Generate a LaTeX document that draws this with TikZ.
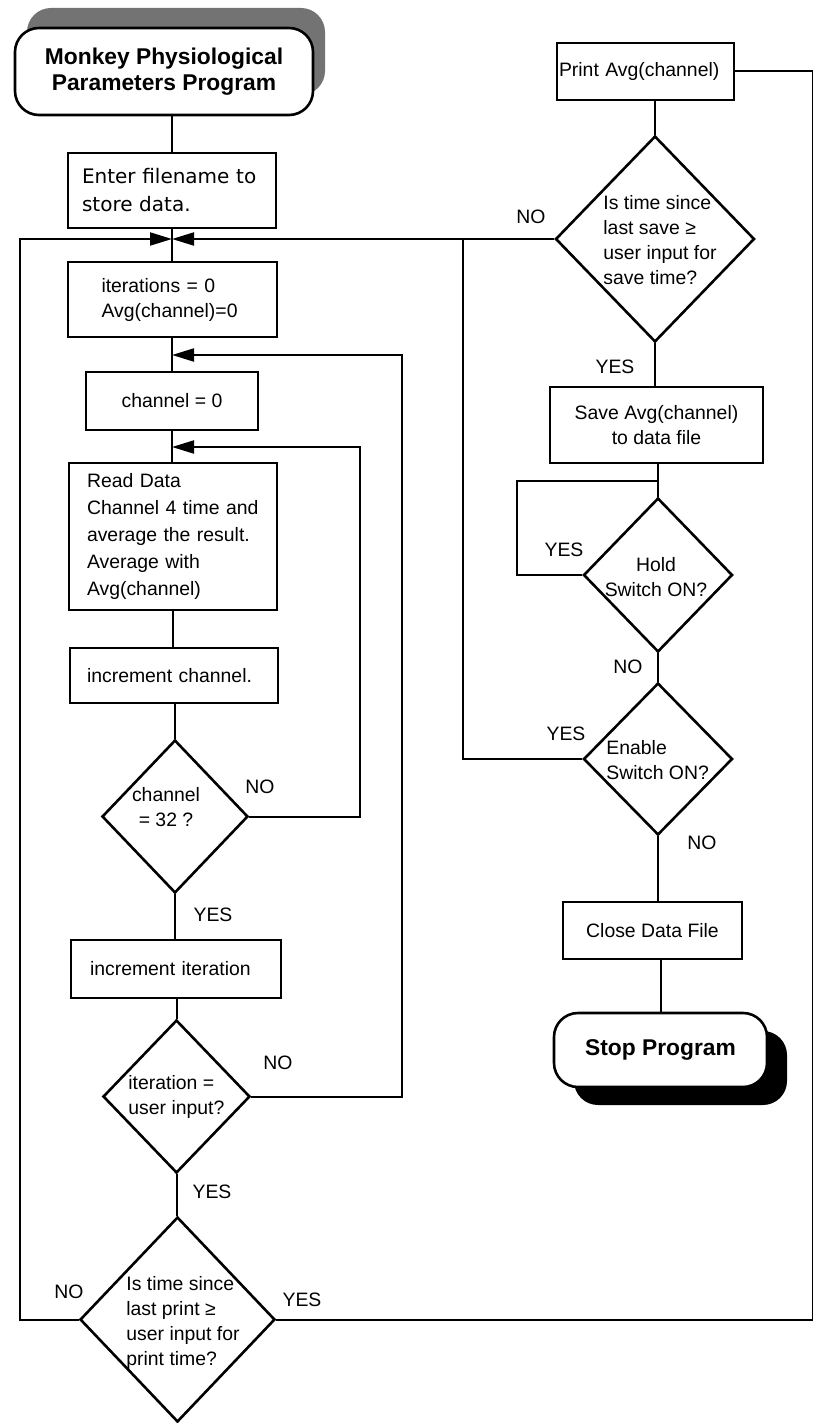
\documentclass[tikz,border=0pt]{standalone}
\usepackage{fontspec}
\setmainfont{Liberation Sans}
\newfontfamily\typedfont{DejaVu Sans}
\usetikzlibrary{arrows.meta,shapes.geometric,shadows}

\newcommand{\boxfont}{\fontsize{9.7}{12.5}\selectfont}
\newcommand{\termfont}{\fontsize{11.4}{13}\selectfont\bfseries}

\tikzset{
  flow/.style={line width=1pt},
  loopin/.style={flow, -{Triangle[length=11pt, width=6.5pt]}},
  procbox/.style={draw, line width=1pt, rectangle, align=left, inner ysep=0pt, font=\boxfont},
  decision/.style={draw, line width=1.3pt, diamond, inner sep=0pt},
  dtext/.style={align=left, inner sep=0pt, font=\boxfont},
  terminal/.style={draw, line width=1.3pt, rounded corners=12pt, fill=white, align=center, font=\termfont},
  answer/.style={inner sep=0pt, font=\boxfont},
}

\begin{document}
\begin{tikzpicture}[x=0.5pt, y=-0.5pt]
  \useasboundingbox (0,0) rectangle (813,1423);

  % left column
  \node[terminal, minimum width=149pt, minimum height=43.5pt,
    drop shadow={shadow xshift=6pt, shadow yshift=10pt, fill=black!55, opacity=1}]
    (start) at (164,71.5) {Monkey Physiological\\Parameters Program};
  \node[procbox, font=\typedfont\fontsize{10}{14}\selectfont, text width=90pt,
    inner xsep=7pt, minimum height=37.5pt] (enter) at (172,190.5) {Enter filename to\\store data.};
  \node[procbox, text width=70.5pt, inner xsep=17pt, minimum height=37.5pt]
    (iter0) at (172,299.5) {iterations = 0\\Avg(channel)=0};
  \node[procbox, minimum width=86pt, minimum height=29pt] (chan0) at (172,401) {channel = 0};
  \node[procbox, font=\fontsize{9.7}{13.5}\selectfont, text width=86pt, inner xsep=9pt,
    minimum height=73.5pt] (read) at (173,536.5)
    {Read Data\\Channel 4 time and\\average the result.\\Average with\\Avg(channel)};
  \node[procbox, text width=87pt, inner xsep=8.5pt, minimum height=27.5pt]
    (incch) at (174,675.5) {increment channel.};
  \node[decision, minimum width=73pt, minimum height=76.5pt] (chdec) at (175,816.5) {};
  \node[dtext, align=center] (chdec-t) at (166,807) {channel\\= 32 ?};
  \node[procbox, text width=86pt, inner xsep=9.5pt, minimum height=29pt]
    (incit) at (176,969) {increment iteration};
  \node[decision, minimum width=73.5pt, minimum height=76.5pt] (itdec) at (176.5,1096.5) {};
  \node[dtext, anchor=west] (itdec-t) at (128,1097) {iteration =\\user input?};
  \node[decision, minimum width=97.5pt, minimum height=102.5pt] (prdec) at (177.5,1319.5) {};
  \node[dtext, anchor=west] (prdec-t) at (126,1323)
    {Is time since\\last print ≥\\user input for\\print time?};

  % right column
  \node[procbox, text width=86.5pt, inner xsep=1pt, minimum height=28.5pt]
    (print) at (645.5,71.5) {Print Avg(channel)};
  \node[decision, minimum width=99.5pt, minimum height=103pt] (svdec) at (655,239) {};
  \node[dtext, anchor=west] (svdec-t) at (603,240)
    {Is time since\\last save ≥\\user input for\\save time?};
  \node[procbox, align=center, minimum width=106.5pt, minimum height=38pt]
    (save) at (656.5,425) {Save Avg(channel)\\to data file};
  \node[decision, minimum width=74.5pt, minimum height=77pt] (hold) at (658,575) {};
  \node[dtext, align=center] (hold-t) at (656,577) {Hold\\Switch ON?};
  \node[decision, minimum width=74.5pt, minimum height=76pt] (enable) at (658,759) {};
  \node[dtext, anchor=west] (enable-t) at (606,760) {Enable\\Switch ON?};
  \node[procbox, minimum width=89.5pt, minimum height=28.5pt] (close) at (652.5,930.5) {Close Data File};
  \node[terminal, minimum width=106.5pt, minimum height=37pt,
    drop shadow={shadow xshift=10pt, shadow yshift=-9pt, fill=black, opacity=1}]
    (stop) at (660.5,1050) {Stop Program};

  % junctions and rails
  \coordinate (j1) at (enter.south |- svdec.west);
  \coordinate (j2) at (172,355);
  \coordinate (j3) at (172,447);
  \coordinate (lrail) at (20,0 |- j1);
  \coordinate (mrail) at (463,0 |- j1);
  \coordinate (r2) at (402,355);
  \coordinate (r3) at (360,447);
  \coordinate (h1) at (517,481);
  \coordinate (j4) at (hold.north |- h1);
  \coordinate (redge) at (813.4,0 |- print.east);

  % main flow
  \draw[flow] (start.south -| enter.north) -- (enter.north);
  \draw[flow] (enter.south) -- (enter.south |- iter0.north);
  \draw[flow] (iter0.south) -- (iter0.south |- chan0.north);
  \draw[flow] (chan0.south) -- (chan0.south |- read.north);
  \draw[flow] (read.south) -- (read.south |- incch.north);
  \draw[flow] (chdec.north |- incch.south) -- (chdec.north);
  \draw[flow] (chdec.south) -- (chdec.south |- incit.north);
  \draw[flow] (itdec.north |- incit.south) -- (itdec.north);
  \draw[flow] (itdec.south) -- (itdec.south |- prdec.north);
  \draw[flow] (svdec.north |- print.south) -- (svdec.north);
  \draw[flow] (svdec.south) -- (svdec.south |- save.north);
  \draw[flow] (hold.north |- save.south) -- (hold.north);
  \draw[flow] (hold.south) -- (enable.north);
  \draw[flow] (enable.south) -- (enable.south |- close.north);
  \draw[flow] (stop.north |- close.south) -- (stop.north);

  % loops back
  \draw[loopin] (svdec.west) -- (j1);
  \draw[loopin] (prdec.west) -| (lrail) -- (j1);
  \draw[flow] (enable.west) -| (mrail);
  \draw[loopin] (itdec.east) -| (r2) -- (j2);
  \draw[loopin] (chdec.east) -| (r3) -- (j3);
  \draw[flow] (hold.west) -| (h1) -- (j4);
  \draw[flow] (prdec.east) -| (redge) -- (print.east);

  % answers
  \node[answer] (svdec-no) at (531,217) {NO};
  \node[answer] (svdec-yes) at (615,367) {YES};
  \node[answer] (hold-yes) at (564,550) {YES};
  \node[answer] (hold-no) at (628,667) {NO};
  \node[answer] (enable-yes) at (566,734) {YES};
  \node[answer] (enable-no) at (702,843) {NO};
  \node[answer] (chdec-no) at (260,787) {NO};
  \node[answer] (chdec-yes) at (213,915) {YES};
  \node[answer] (itdec-no) at (278,1063) {NO};
  \node[answer] (itdec-yes) at (212,1192) {YES};
  \node[answer] (prdec-no) at (69,1292) {NO};
  \node[answer] (prdec-yes) at (302,1300) {YES};
\end{tikzpicture}
\end{document}
